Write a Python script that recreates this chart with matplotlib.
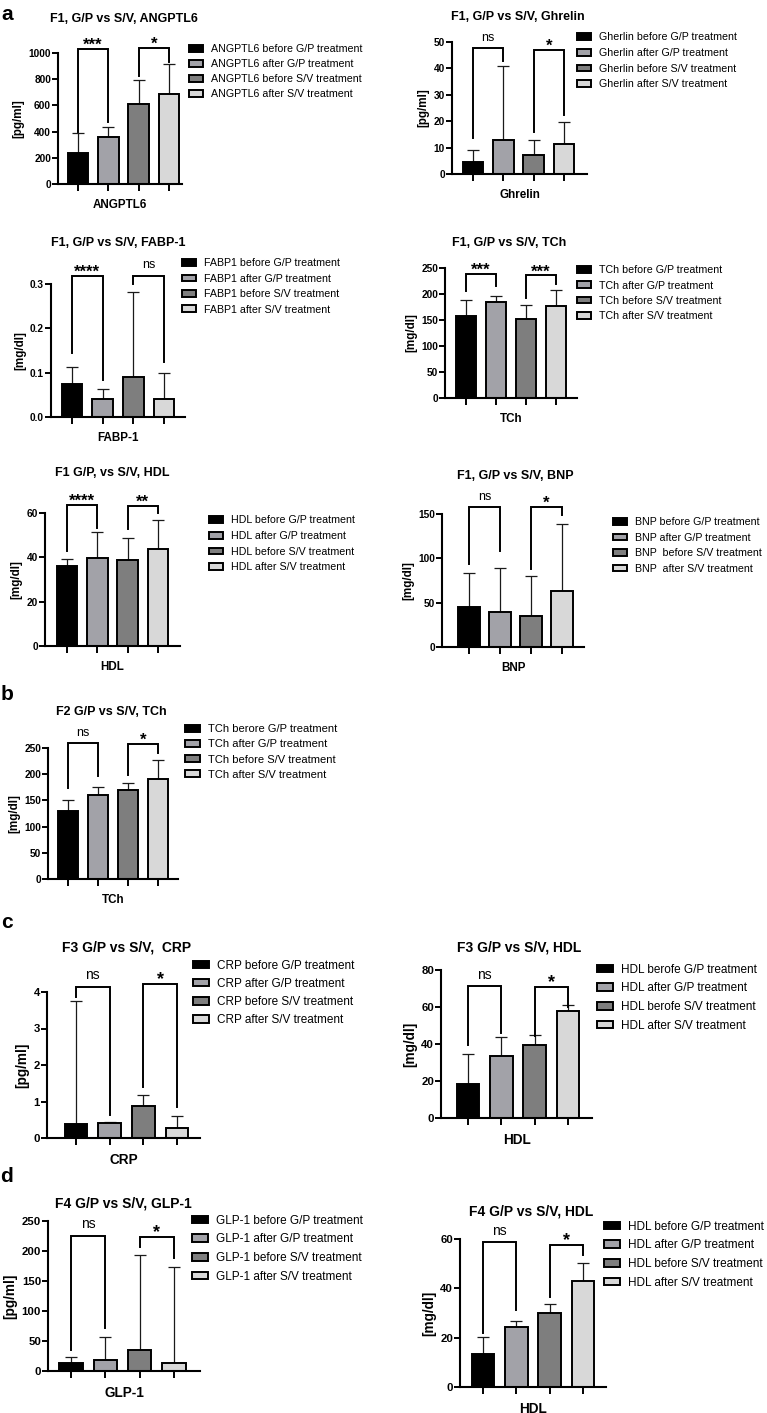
import numpy as np
import matplotlib.pyplot as plt

plt.rcParams['font.family'] = ['Liberation Sans', 'DejaVu Sans']

W, H = 767, 1413
bar_colors = ['#000000', '#a2a2a8', '#7e7e7e', '#d8d8d8']

# ---- data (mean, top of error bar, significance brackets: text, top, left leg, right leg)
angptl6_mean = [240, 360, 610, 690]
angptl6_top = [388, 437, 797, 915]
angptl6_sig = [('***', 1030, 400, 470), ('*', 1038, 823, 930)]
angptl6_labels = ['ANGPTL6 before G/P treatment', 'ANGPTL6 after G/P treatment',
                  'ANGPTL6 before S/V treatment', 'ANGPTL6 after S/V treatment']

ghrelin_mean = [4.5, 12.8, 7.3, 11.4]
ghrelin_top = [9.0, 40.8, 12.8, 19.6]
ghrelin_sig = [('ns', 47.7, 13.6, 42.7), ('*', 47.1, 15.8, 22.5)]
ghrelin_labels = ['Gherlin before G/P treatment', 'Gherlin after G/P treatment',
                  'Gherlin before S/V treatment', 'Gherlin after S/V treatment']

fabp1_mean = [0.075, 0.040, 0.090, 0.040]
fabp1_top = [0.113, 0.063, 0.283, 0.100]
fabp1_sig = [('****', 0.319, 0.145, 0.083), ('ns', 0.319, 0.300, 0.124)]
fabp1_labels = ['FABP1 before G/P treatment', 'FABP1 after G/P treatment',
                'FABP1 before S/V treatment', 'FABP1 after S/V treatment']

tch1_mean = [157, 185, 152, 176]
tch1_top = [188, 197, 178, 208]
tch1_sig = [('***', 239, 205, 215), ('***', 236, 192, 220)]
tch1_labels = ['TCh before G/P treatment', 'TCh after G/P treatment',
               'TCh before S/V treatment', 'TCh after S/V treatment']

hdl1_mean = [35.9, 39.7, 38.6, 43.7]
hdl1_top = [39.4, 51.3, 48.9, 57.0]
hdl1_sig = [('****', 63.8, 42.7, 53.2), ('**', 63.3, 52.8, 60.0)]
hdl1_labels = ['HDL before G/P treatment', 'HDL after G/P treatment',
               'HDL before S/V treatment', 'HDL after S/V treatment']

bnp_mean = [45, 40, 35, 63]
bnp_top = [84, 89, 80, 139]
bnp_sig = [('ns', 158, 94, 108), ('*', 158, 88, 149)]
bnp_labels = ['BNP before G/P treatment', 'BNP after G/P treatment',
              'BNP  before S/V treatment', 'BNP  after S/V treatment']

tch2_mean = [129, 160, 170, 191]
tch2_top = [151, 176, 184, 228]
tch2_sig = [('ns', 260, 174, 197), ('*', 258, 198, 240)]
tch2_labels = ['TCh berore G/P treatment', 'TCh after G/P treatment',
               'TCh before S/V treatment', 'TCh after S/V treatment']

crp_mean = [0.38, 0.41, 0.88, 0.27]
crp_top = [3.75, 0.45, 1.18, 0.61]
crp_sig = [('ns', 4.15, 3.86, 0.64), ('*', 4.23, 1.39, 0.84)]
crp_labels = ['CRP before G/P treatment', 'CRP after G/P treatment',
              'CRP before S/V treatment', 'CRP after S/V treatment']

hdl3_mean = [18.3, 33.6, 39.6, 57.6]
hdl3_top = [34.4, 43.7, 45.1, 61.3]
hdl3_sig = [('ns', 71.4, 39.6, 46.2), ('*', 71.0, 44.4, 60.2)]
hdl3_labels = ['HDL berofe G/P treatment', 'HDL after G/P treatment',
               'HDL berofe S/V treatment', 'HDL after S/V treatment']

glp1_mean = [12.8, 18.3, 35, 12.8]
glp1_top = [22.8, 57, 193, 174]
glp1_sig = [('ns', 225.6, 35, 71), ('*', 224, 206, 188)]
glp1_labels = ['GLP-1 before G/P treatment', 'GLP-1 after G/P treatment',
               'GLP-1 before S/V treatment', 'GLP-1 after S/V treatment']

hdl4_mean = [13.5, 24.4, 30.2, 43.0]
hdl4_top = [20.3, 26.7, 33.6, 50.4]
hdl4_sig = [('ns', 58.7, 22, 31.2), ('*', 57.6, 36.6, 53.5)]
hdl4_labels = ['HDL before G/P treatment', 'HDL after G/P treatment',
               'HDL before S/V treatment', 'HDL after S/V treatment']

fig = plt.figure(figsize=(W / 100, H / 100), dpi=100)
fig.patch.set_facecolor('white')

# title, ticks, axis labels, legend, stars, ns
style_a = (9, 7.3, 8.4, 7.7, 12, 9)
style_b = (9, 7.3, 8.4, 8.0, 12, 9)
style_c = (10, 8.2, 9.8, 8.5, 13, 10)


def fx(px):
    return px / W


def fy(py):
    return 1 - py / H


def panel(box, title, title_xy, ylabel, xlabel, yticks, ytl, means, tops, sig,
          labels, leg, style):
    x0, ytop, ybot, c1, c4, xend = box
    tfs, kfs, lfs, gfs, sfs, nfs = style
    ax = fig.add_axes([fx(x0), fy(ybot), (xend - x0) / W, (ybot - ytop) / H])
    s = (c4 - c1) / 3
    ax.set_xlim(-(c1 - x0) / s, 3 + (xend - c4) / s)
    ax.set_ylim(yticks[0], yticks[-1])
    x = np.arange(4)
    err = np.array(tops) - np.array(means)
    ax.errorbar(x, means, yerr=[np.zeros(4), err], fmt='none', ecolor='#1a1a1a',
                elinewidth=0.9, capsize=4.3, capthick=0.9, zorder=1)
    bars = ax.bar(x, means, 0.68, color=bar_colors, edgecolor='black',
                  linewidth=1.4, zorder=2)
    for sp in ['top', 'right']:
        ax.spines[sp].set_visible(False)
    for sp in ['left', 'bottom']:
        ax.spines[sp].set_linewidth(1.5)
    ax.set_yticks(yticks)
    ax.set_yticklabels(ytl, fontweight='bold')
    ax.tick_params(axis='y', direction='out', length=4, width=1.4, labelsize=kfs, pad=1)
    ax.set_xticks(x)
    ax.set_xticklabels([])
    ax.tick_params(axis='x', direction='out', length=5, width=1.4)
    ax.set_ylabel(ylabel, fontsize=lfs, fontweight='bold', labelpad=3)
    ax.set_xlabel(xlabel, fontsize=lfs, fontweight='bold', labelpad=2)
    for i, (txt, top, left, right) in enumerate(sig):
        xa, xb = 2 * i, 2 * i + 1
        ax.plot([xa, xa, xb, xb], [left, top, top, right], color='black',
                lw=1.4, clip_on=False, solid_joinstyle='miter')
        if txt == 'ns':
            ax.annotate(txt, ((xa + xb) / 2, top), xytext=(0, 3),
                        textcoords='offset points', ha='center', va='bottom',
                        fontsize=nfs, annotation_clip=False)
        else:
            ax.annotate(txt, ((xa + xb) / 2, top), xytext=(0, -3),
                        textcoords='offset points', ha='center', va='bottom',
                        fontsize=sfs, fontweight='bold', annotation_clip=False)
    fig.text(fx(title_xy[0]), fy(title_xy[1]), title, fontsize=tfs,
             fontweight='bold', ha='center', va='center')
    lx, ly, sp = leg
    fpx = gfs * 100 / 72
    ax.legend(list(bars.patches), labels, loc='upper left',
              bbox_to_anchor=(fx(lx), fy(ly - 0.62 * fpx)),
              bbox_transform=fig.transFigure, frameon=False, fontsize=gfs,
              handlelength=1.35, handleheight=0.6, handletextpad=0.7,
              labelspacing=(sp - 1.15 * fpx) / fpx, borderpad=0, borderaxespad=0)
    return ax


panel((58, 53, 184, 78, 169, 182), 'F1, G/P vs S/V, ANGPTL6', (124, 19), '[pg/ml]',
      'ANGPTL6', [0, 200, 400, 600, 800, 1000], ['0', '200', '400', '600', '800', '1000'],
      angptl6_mean, angptl6_top, angptl6_sig, angptl6_labels, (189, 51, 17.3), style_a)

panel((452, 42, 174, 473, 564, 587), 'F1, G/P vs S/V, Ghrelin', (518, 17), '[pg/ml]',
      'Ghrelin', [0, 10, 20, 30, 40, 50], ['0', '10', '20', '30', '40', '50'],
      ghrelin_mean, ghrelin_top, ghrelin_sig, ghrelin_labels, (577, 39, 18), style_a)

panel((51, 284, 417, 72, 164, 185), 'F1, G/P vs S/V, FABP-1', (118, 243), '[mg/dl]',
      'FABP-1', [0, 0.1, 0.2, 0.3], ['0.0', '0.1', '0.2', '0.3'],
      fabp1_mean, fabp1_top, fabp1_sig, fabp1_labels, (182, 265, 17.7), style_a)

panel((445, 268, 398, 466, 556, 577), 'F1, G/P vs S/V, TCh', (509, 243), '[mg/dl]',
      'TCh', [0, 50, 100, 150, 200, 250], ['0', '50', '100', '150', '200', '250'],
      tch1_mean, tch1_top, tch1_sig, tch1_labels, (577, 272, 17.5), style_a)

panel((45, 513, 646, 67, 158, 180), 'F1 G/P, vs S/V, HDL', (112, 473), '[mg/dl]',
      'HDL', [0, 20, 40, 60], ['0', '20', '40', '60'],
      hdl1_mean, hdl1_top, hdl1_sig, hdl1_labels, (209, 522, 18), style_a)

panel((442, 514, 647, 469, 562, 584), 'F1, G/P vs S/V, BNP', (515, 476), '[mg/dl]',
      'BNP', [0, 50, 100, 150], ['0', '50', '100', '150'],
      bnp_mean, bnp_top, bnp_sig, bnp_labels, (613, 524, 17.8), style_a)

panel((48, 748, 879, 68, 158, 178), 'F2 G/P vs S/V, TCh', (111, 712), '[mg/dl]',
      'TCh', [0, 50, 100, 150, 200, 250], ['0', '50', '100', '150', '200', '250'],
      tch2_mean, tch2_top, tch2_sig, tch2_labels, (185, 731, 18), style_b)

panel((47, 992, 1138, 76, 177, 200), 'F3 G/P vs S/V,  CRP', (127, 948), '[pg/ml]',
      'CRP', [0, 1, 2, 3, 4], ['0', '1', '2', '3', '4'],
      crp_mean, crp_top, crp_sig, crp_labels, (193, 967, 19.8), style_c)

panel((441, 970, 1118, 468, 568, 592), 'F3 G/P vs S/V, HDL', (519, 948), '[mg/dl]',
      'HDL', [0, 20, 40, 60, 80], ['0', '20', '40', '60', '80'],
      hdl3_mean, hdl3_top, hdl3_sig, hdl3_labels, (597, 971, 20.3), style_c)

panel((48, 1221, 1371, 71, 174, 200), 'F4 G/P vs S/V, GLP-1', (123, 1203), '[pg/ml]',
      'GLP-1', [0, 50, 100, 150, 200, 250], ['0', '50', '100', '150', '200', '250'],
      glp1_mean, glp1_top, glp1_sig, glp1_labels, (192, 1222, 20.3), style_c)

panel((460, 1239, 1387, 483, 583, 606), 'F4 G/P vs S/V, HDL', (531, 1211), '[mg/dl]',
      'HDL', [0, 20, 40, 60], ['0', '20', '40', '60'],
      hdl4_mean, hdl4_top, hdl4_sig, hdl4_labels, (604, 1228, 20.3), style_c)

for letter, (px, py) in zip('abcd', [(7, 14), (7, 695), (7, 922), (7, 1176)]):
    fig.text(fx(px), fy(py), letter, fontsize=15, fontweight='bold',
             ha='center', va='center')

fig.savefig('out.png', dpi=100, facecolor='white')
